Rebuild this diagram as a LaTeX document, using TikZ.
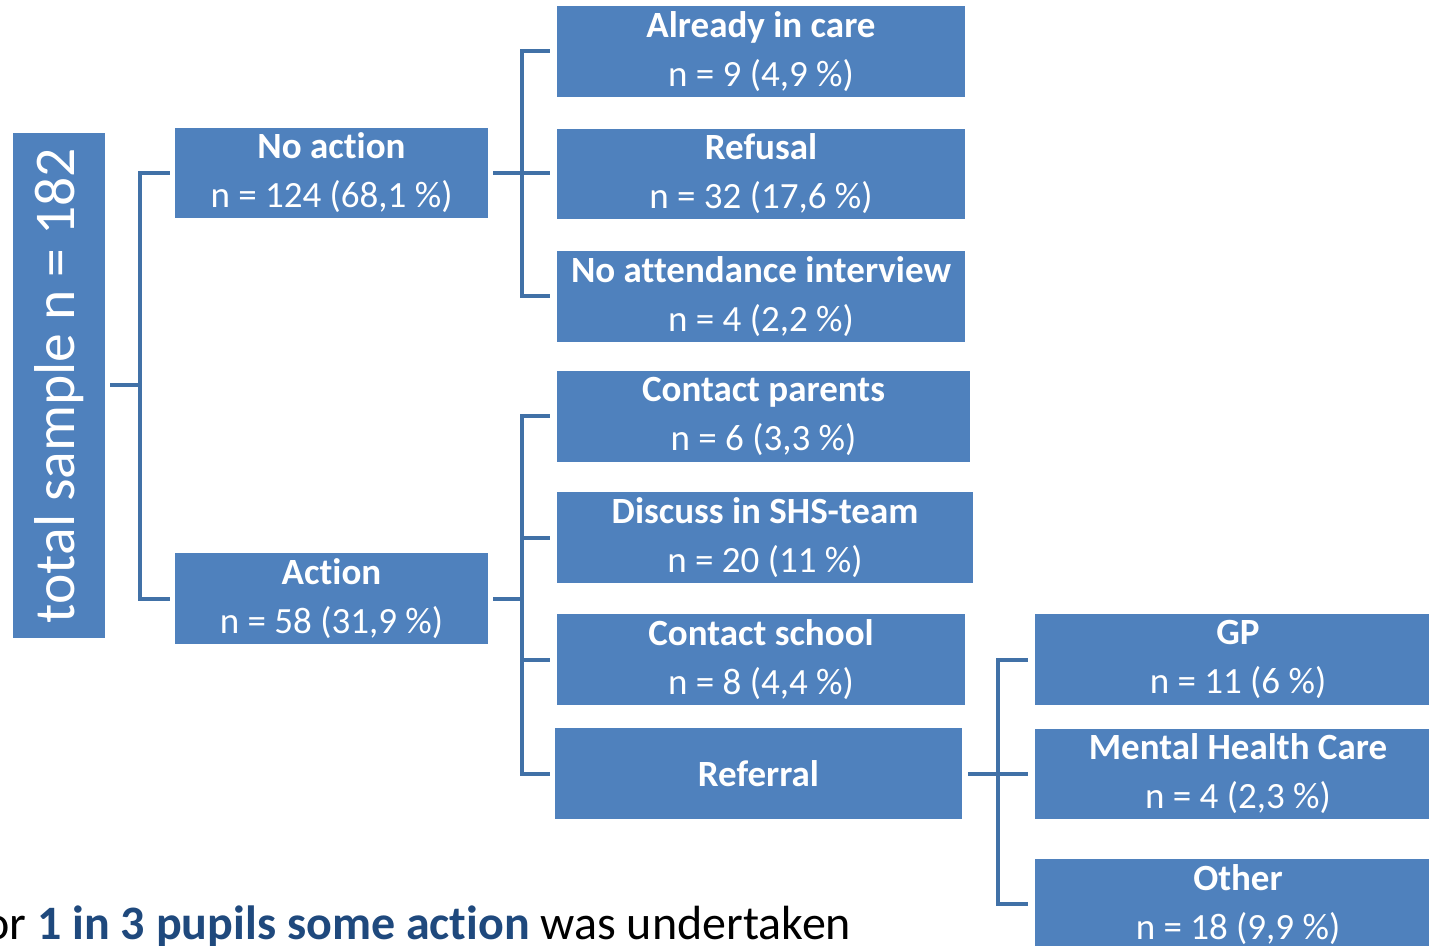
\documentclass[tikz,border=0pt]{standalone}
\usepackage{fontspec}
\setmainfont{Carlito}[Ligatures={NoCommon,NoContextual}]
\usetikzlibrary{positioning}

\definecolor{boxblue}{RGB}{79,129,189}
\definecolor{lineblue}{RGB}{65,113,167}
\definecolor{noteblue}{RGB}{31,73,125}
\newcommand\boxfont{\fontsize{18.5}{24.5}\selectfont}

\begin{document}
\begin{tikzpicture}[
    x=0.5pt, y=-0.5pt,
    % Define the style for the boxes and connectors
    catbox/.style={rectangle, fill=boxblue, text=white, inner sep=0pt, align=center, font=\boxfont, minimum height=45.5pt},
    widebox/.style={catbox, minimum width=204pt},
    branch/.style={draw=lineblue, line width=2pt}
]
    \useasboundingbox (0,0) rectangle (1429,946);
    \clip (0,0) rectangle (1429,946);

    % total sample
    \node[catbox, rotate=90, minimum width=252.5pt, minimum height=46pt,
          font=\fontsize{28.8}{34}\selectfont] (total) at (59,385.5) {total sample n = 182};

    % first split
    \node[catbox, minimum width=156.5pt, minimum height=45pt] (noaction) at (331.5,173)
        {\textbf{No action}\\n = 124 (68,1 \%)};
    \node[catbox, minimum width=156.5pt] (action) at (331.5,598.5)
        {\textbf{Action}\\n = 58 (31,9 \%)};

    % no action branches
    \node[widebox] (incare) at (761,51.5) {\textbf{Already in care}\\n = 9 (4,9 \%)};
    \node[widebox, minimum height=45pt, below=15.5pt of incare] (refusal) {\textbf{Refusal}\\n = 32 (17,6 \%)};
    \node[widebox, below=15.5pt of refusal] (noattend) {\textbf{No attendance interview}\\n = 4 (2,2 \%)};

    % action branches
    \node[catbox, minimum width=206.5pt] (parents) at (763.5,416.5) {\textbf{Contact parents}\\n = 6 (3,3 \%)};
    \node[catbox, minimum width=208pt] (discuss) at (765,537.5) {\textbf{Discuss in SHS-team}\\n = 20 (11 \%)};
    \node[widebox] (school) at (761,659.5) {\textbf{Contact school}\\n = 8 (4,4 \%)};
    \node[catbox, minimum width=203.5pt] (referral) at (758.5,773.5) {\textbf{Referral}};

    % referral branches
    \node[catbox, minimum width=203pt] (gp) at (1238,659.5) {\textbf{GP}\\n = 11 (6 \%)};
    \node[catbox, minimum width=203pt, minimum height=45pt, below=11.5pt of gp] (mhc) {\textbf{Mental Health Care}\\n = 4 (2,3 \%)};
    \node[catbox, minimum width=203pt, below=19.5pt of mhc] (other) {\textbf{Other}\\n = 18 (9,9 \%)};

    % connectors
    \coordinate (j1) at (140,385.5);
    \draw[branch] ([xshift=2.5pt]total.south) -- (j1);
    \draw[branch] ([xshift=-2.5pt]noaction.west) -| (j1) |- ([xshift=-2.5pt]action.west);

    \coordinate (j2) at (522,173);
    \draw[branch] ([xshift=2.5pt]noaction.east) -- ([xshift=-3.5pt]noaction.east -| refusal.west);
    \draw[branch] ([xshift=-3.5pt]incare.west) -| (j2) |- ([xshift=-3.5pt]noattend.west);

    \coordinate (j3) at (522,598.5);
    \draw[branch] ([xshift=2.5pt]action.east) -- (j3);
    \draw[branch] ([xshift=-3.5pt]parents.west) -| (j3) |- ([xshift=-2.5pt]referral.west);
    \foreach \b in {discuss, school} {
        \draw[branch] (j3 |- \b.west) -- ([xshift=-3.5pt]\b.west);
    }

    \coordinate (j4) at (998,773.5);
    \draw[branch] ([xshift=3pt]referral.east) -- ([xshift=-3.5pt]referral.east -| mhc.west);
    \draw[branch] ([xshift=-3.5pt]gp.west) -| (j4) |- ([xshift=-3.5pt]other.west);

    % note
    \node[anchor=base west, inner sep=0pt, font=\fontsize{24}{28}\selectfont] (note) at (-16,939)
        {or \textcolor{noteblue}{\textbf{1 in 3 pupils some action}} was undertaken};

\end{tikzpicture}
\end{document}
